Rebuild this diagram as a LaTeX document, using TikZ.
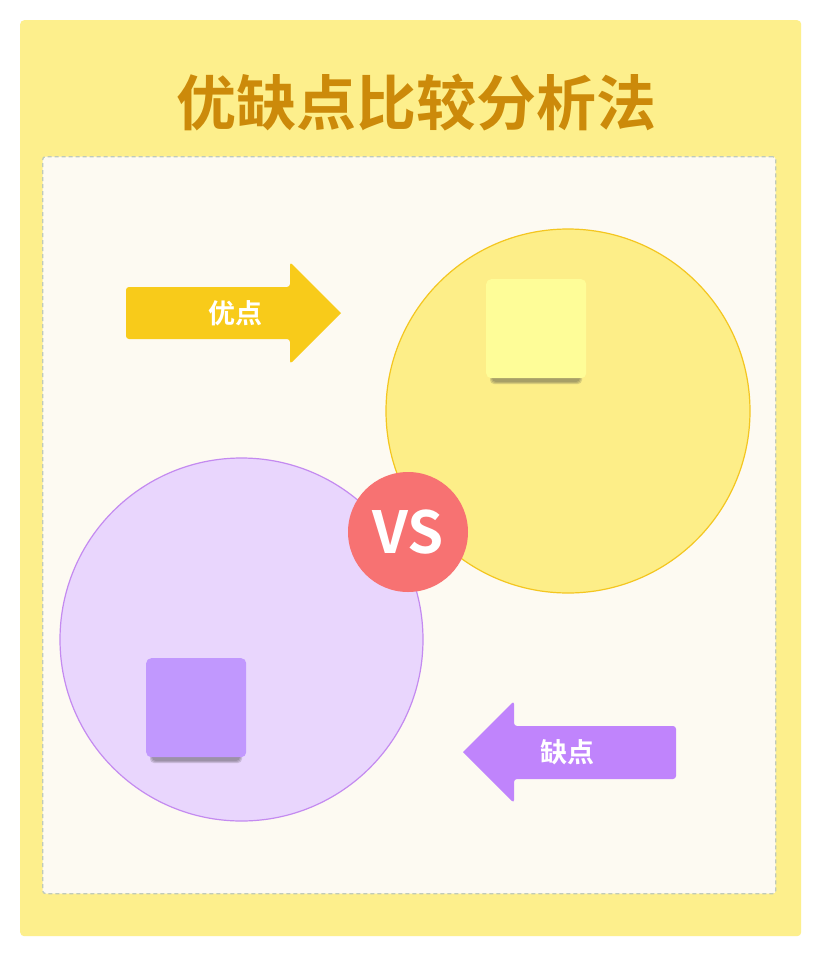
\documentclass[tikz,border=0pt]{standalone}
\usepackage{fontspec}
\setmainfont{Noto Sans CJK SC}[BoldFont={Noto Sans CJK SC Bold}]
\newfontfamily\cjkb{Noto Sans CJK SC Bold}
\definecolor{outerY}{HTML}{FDEF8C}
\definecolor{cream}{HTML}{FDFAF2}
\definecolor{dashc}{HTML}{BFCABB}
\definecolor{titlec}{HTML}{CC8A0A}
\definecolor{ycirc}{HTML}{FDEE88}
\definecolor{ycircl}{HTML}{F4C620}
\definecolor{pcirc}{HTML}{E9D6FD}
\definecolor{pcircl}{HTML}{C48AF0}
\definecolor{vsred}{HTML}{F77272}
\definecolor{ysq}{HTML}{FEFD98}
\definecolor{psq}{HTML}{C198FE}
\definecolor{yarrow}{HTML}{F8CB1A}
\definecolor{parrow}{HTML}{C084FC}
\tikzset{
  lbl/.style={text=white, font=\cjkb\fontsize{27}{29}\selectfont, inner sep=0pt},
  sqshadow/.style={fill=black!75, opacity=0.18, rounded corners=4pt},
}
\begin{document}
\begin{tikzpicture}[x=1pt,y=-1pt]
\useasboundingbox (0,0) rectangle (820,956);
\fill[white] (0,0) rectangle (820,956);
% outer panel
\node[fill=outerY, rounded corners=4pt, minimum width=781pt, minimum height=916pt, inner sep=0pt, anchor=north west] (panel) at (20,20) {};
% inner dashed area
\node[fill=cream, draw=dashc, dash pattern=on 4pt off 3pt, line width=1.3pt, rounded corners=3pt, minimum width=733pt, minimum height=737pt, inner sep=0pt, anchor=north west] (area) at (42,156) {};
% title
\node[text=titlec, font=\cjkb\fontsize{60}{62}\selectfont, inner sep=0pt] (title) at (416,103) {优缺点比较分析法};
% circles
\node[circle, fill=ycirc, draw=ycircl, line width=1.2pt, minimum size=364pt, inner sep=0pt] (ycircle) at (568,411) {};
\node[circle, fill=pcirc, draw=pcircl, line width=1.2pt, minimum size=363pt, inner sep=0pt] (pcircle) at (241.5,639.5) {};
% squares with soft shadows
\foreach \d in {0,1,2}{
  \fill[sqshadow] (490+\d,370+\d) rectangle (582-\d,384-\d);
  \fill[sqshadow] (150+\d,749+\d) rectangle (242-\d,763-\d);
}
\node[fill=ysq, rounded corners=5pt, minimum width=100pt, minimum height=99pt, inner sep=0pt, anchor=north west] (ysquare) at (486,279) {};
\node[fill=psq, rounded corners=5pt, minimum width=100pt, minimum height=99pt, inner sep=0pt, anchor=north west] (psquare) at (146,658) {};
% VS
\node[circle, fill=vsred, minimum size=120pt, inner sep=0pt, text=white, font=\cjkb\fontsize{58}{60}\selectfont] (vs) at (408,532) {VS};
% arrows
\fill[yarrow, rounded corners=3pt] (126,287) -- (290,287) -- (290,262) [sharp corners] -- (341,313) [rounded corners=3pt] -- (290,364) -- (290,339) -- (126,339) -- cycle;
\node[lbl] (adv) at (235,313) {优点};
\fill[parrow, rounded corners=3pt] (676,726) -- (514,726) -- (514,701) [sharp corners] -- (463,752) [rounded corners=3pt] -- (514,803) -- (514,779) -- (676,779) -- cycle;
\node[lbl] (dis) at (567,752) {缺点};
\end{tikzpicture}
\end{document}
